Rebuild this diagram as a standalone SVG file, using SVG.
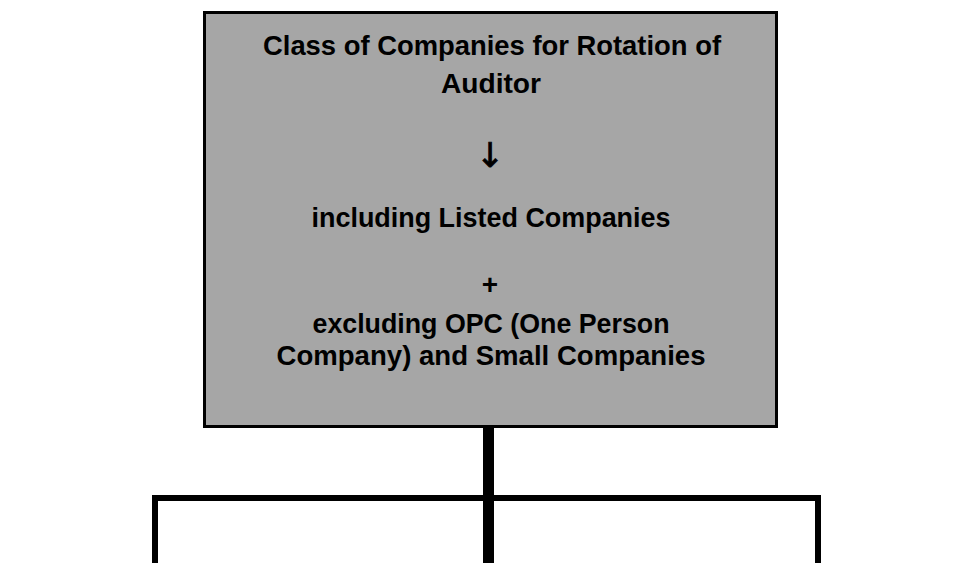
<svg xmlns="http://www.w3.org/2000/svg" width="953" height="563" viewBox="0 0 953 563">
<style>
.t{font-family:"Liberation Sans",Arial,sans-serif;font-weight:bold;font-size:28px;fill:#000;text-anchor:middle}
.a{font-family:"DejaVu Sans",sans-serif;font-size:34px;fill:#000;text-anchor:middle}
.c{stroke:#000;fill:none;stroke-linecap:butt}
</style>
<rect width="953" height="563" fill="#fff"/>
<g id="node-main">
<rect x="204.5" y="12.5" width="572" height="414" fill="#a6a6a6" stroke="#000" stroke-width="3"/>
<text class="t" x="492" y="55" textLength="458" lengthAdjust="spacingAndGlyphs">Class of Companies for Rotation of</text>
<text class="t" x="491" y="93" textLength="100" lengthAdjust="spacingAndGlyphs">Auditor</text>
<text class="a" x="490" y="167" stroke="#000" stroke-width="0.8">↓</text>
<text class="t" x="491" y="227" textLength="359" lengthAdjust="spacingAndGlyphs">including Listed Companies</text>
<text class="t" x="490" y="294">+</text>
<text class="t" x="491" y="333" textLength="357" lengthAdjust="spacingAndGlyphs">excluding OPC (One Person</text>
<text class="t" x="491" y="365" textLength="429" lengthAdjust="spacingAndGlyphs">Company) and Small Companies</text>
</g>
<g id="connectors">
<line class="c" x1="488.5" y1="428" x2="488.5" y2="563" stroke-width="11"/>
<polyline class="c" points="155,563 155,498 818,498 818,563" stroke-width="6"/>
</g>
</svg>
